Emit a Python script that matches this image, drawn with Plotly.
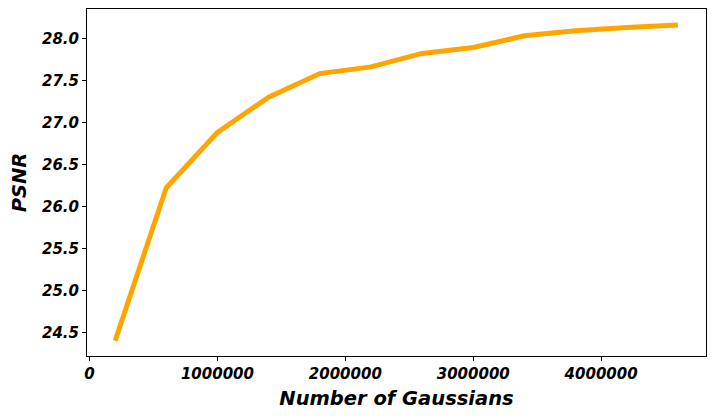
import plotly.graph_objects as go

# number of gaussians vs psnr
num_gaussians = [200000, 600000, 1000000, 1400000, 1800000, 2200000,
                 2600000, 3000000, 3400000, 3800000, 4200000, 4600000]
psnr = [24.40, 26.22, 26.88, 27.30, 27.58, 27.66,
        27.82, 27.89, 28.03, 28.09, 28.13, 28.16]

x_ticks = [0, 1000000, 2000000, 3000000, 4000000]
y_ticks = [24.5, 25.0, 25.5, 26.0, 26.5, 27.0, 27.5, 28.0]

font_fam = "DejaVu Sans"
tick_font = dict(family=font_fam, size=15, color="black", weight="bold", style="italic")
title_font = dict(family=font_fam, size=19.5, color="black", weight="bold", style="italic")

fig = go.Figure(go.Scatter(
    x=num_gaussians, y=psnr, mode="lines",
    line=dict(color="#FFA500", width=5),
))

fig.update_xaxes(
    range=[-20000, 4820000], tickvals=x_ticks, tickformat="d",
    showline=True, linecolor="black", linewidth=1, mirror=True,
    ticks="outside", ticklen=4, tickcolor="black",
    showgrid=False, zeroline=False, tickfont=tick_font, automargin=False,
    title=dict(text="Number of Gaussians", font=title_font, standoff=9),
)
fig.update_yaxes(
    range=[24.218, 28.349], tickvals=y_ticks, tickformat=".1f",
    showline=True, linecolor="black", linewidth=1, mirror=True,
    ticks="outside", ticklen=4, tickcolor="black",
    showgrid=False, zeroline=False, tickfont=tick_font, automargin=False,
    title=dict(text="PSNR", font=title_font, standoff=13),
)

# page body has an 8px margin, so the figure is shrunk to fit the window
fig.update_layout(
    width=707, height=410,
    margin=dict(l=79, r=9, t=1, b=62),
    plot_bgcolor="white", paper_bgcolor="white",
    showlegend=False,
)

fig.write_html("out.html")
